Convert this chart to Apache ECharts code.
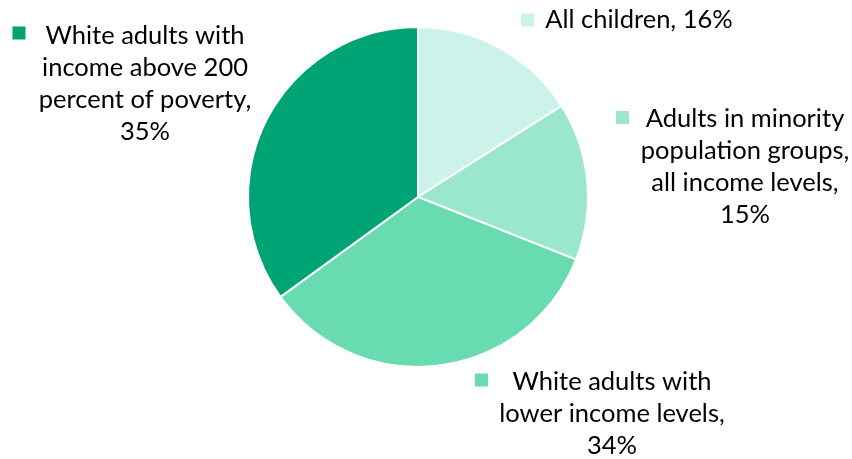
<!DOCTYPE html>
<html>
<head>
<meta charset="utf-8">
<script src="https://cdn.jsdelivr.net/npm/echarts@6/dist/echarts.min.js"></script>
<style>html,body{margin:0;padding:0;background:#fff}#c{width:852px;height:459px}</style>
</head>
<body>
<div id="c"></div>
<script>
const categories = [
  'All children',
  'Adults in minority population groups, all income levels',
  'White adults with lower income levels',
  'White adults with income above 200 percent of poverty'
];
const labelTexts = [
  'All children, 16%',
  'Adults in minority\npopulation groups,\nall income levels,\n15%',
  'White adults with\nlower income levels,\n34%',
  'White adults with\nincome above 200\npercent of poverty,\n35%'
];
const values = [16, 15, 34, 35];
const colors = ['#ccf3ea', '#9be7cb', '#68dbb0', '#00a373'];

// label placements (styling only)
const textPos = [[639, 20], [745, 167], [612, 414], [145, 84]];
const markPos = [[527.5, 20], [622.5, 117.5], [481.5, 380], [19, 33]];

const data = categories.map((c, i) => ({ name: c, value: values[i], itemStyle: { color: colors[i] } }));
const rich = {};
colors.forEach((c, i) => { rich['sq' + i] = { width: 13, height: 13, backgroundColor: c }; });

const chart = echarts.init(document.getElementById('c'), null, { renderer: 'canvas' });
chart.setOption({
  animation: false,
  series: [
    {
      type: 'pie',
      center: [418, 197],
      radius: 170,
      startAngle: 90,
      clockwise: true,
      data: data,
      itemStyle: { borderColor: '#ffffff', borderWidth: 2 },
      labelLine: { show: false },
      label: {
        show: true,
        formatter: p => labelTexts[p.dataIndex],
        fontFamily: 'Lato',
        fontSize: 25.5,
        lineHeight: 32,
        color: '#000000',
        align: 'center',
        overflow: 'none',
        width: 300
      },
      labelLayout: p => ({ x: textPos[p.dataIndex][0], y: textPos[p.dataIndex][1], align: 'center', verticalAlign: 'middle' })
    },
    {
      type: 'pie',
      silent: true,
      center: [418, 197],
      radius: 170,
      startAngle: 90,
      clockwise: true,
      data: data.map(d => ({ name: d.name, value: d.value })),
      itemStyle: { color: 'rgba(0,0,0,0)' },
      labelLine: { show: false },
      label: {
        show: true,
        formatter: p => '{sq' + p.dataIndex + '|}',
        rich: rich
      },
      labelLayout: p => ({ x: markPos[p.dataIndex][0], y: markPos[p.dataIndex][1], align: 'center', verticalAlign: 'middle' })
    }
  ]
});
</script>
</body>
</html>
